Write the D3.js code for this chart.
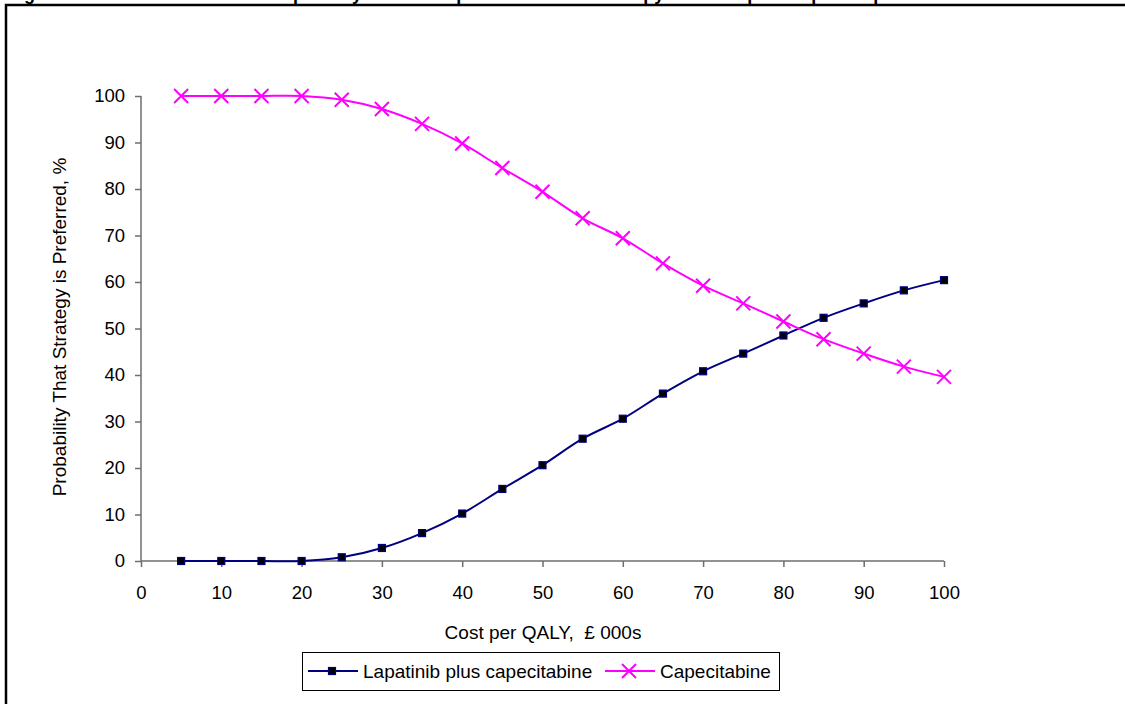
<!DOCTYPE html>
<html>
<head>
<meta charset="utf-8" />
<title>Cost-effectiveness acceptability curve</title>
<style>
  body { margin: 0; background: #fff; }
  svg text { font-family: "Liberation Sans", Arial, sans-serif; fill: #000; }
</style>
</head>
<body>
<svg id="chart" width="1125" height="704"></svg>
<script src="https://d3js.org/d3.v7.min.js"></script>
<script>
// thresholds, £ 000s
var costs = [5, 10, 15, 20, 25, 30, 35, 40, 45, 50, 55, 60, 65, 70, 75, 80, 85, 90, 95, 100];
var lapatinib = [0, 0, 0, 0, 0.8, 2.8, 6.0, 10.2, 15.5, 20.6, 26.3, 30.6, 36.0, 40.8, 44.6, 48.5, 52.3, 55.4, 58.2, 60.4];
var capecitabine = [100, 100, 100, 100, 99.2, 97.2, 94.0, 89.8, 84.5, 79.4, 73.7, 69.4, 64.0, 59.2, 55.4, 51.5, 47.7, 44.6, 41.8, 39.6];
var xTicks = [0, 10, 20, 30, 40, 50, 60, 70, 80, 90, 100];
var yTicks = [0, 10, 20, 30, 40, 50, 60, 70, 80, 90, 100];
var seriesNames = ["Lapatinib plus capecitabine", "Capecitabine"];

var svg = d3.select("#chart");

// outer frame of the figure
svg.append("rect")
  .attr("x", 6).attr("y", 5)
  .attr("width", 1200).attr("height", 800)
  .attr("fill", "none").attr("stroke", "#000").attr("stroke-width", 2.5);

// title, cut off at the top edge like the source
svg.append("text")
  .attr("x", 8).attr("y", 0)
  .attr("font-size", 18).attr("font-weight", "bold")
  .text("Figure 3. Cost-effectiveness acceptability curves: capecitabine monotherapy versus lapatinib plus capecitabine");

var x = d3.scaleLinear().domain([0, 100]).range([141, 944]);
var y = d3.scaleLinear().domain([0, 100]).range([561, 96]);

var axisColor = "#6e6e6e";

var gx = svg.append("g").attr("transform", "translate(0,561)")
  .call(d3.axisBottom(x).tickValues(xTicks).tickSize(6).tickPadding(19));
var gy = svg.append("g").attr("transform", "translate(141,0)")
  .call(d3.axisLeft(y).tickValues(yTicks).tickSize(6).tickPadding(10));

[gx, gy].forEach(function(g) {
  g.select(".domain").attr("stroke", axisColor).attr("stroke-width", 1.5);
  g.selectAll(".tick line").attr("stroke", axisColor).attr("stroke-width", 1.5);
  g.selectAll(".tick text").attr("font-size", 18.5).attr("font-family", "Liberation Sans, Arial, sans-serif").attr("fill", "#000");
});
// plain axis lines without the outer end ticks
gx.select(".domain").attr("d", "M141,0H944");
gy.select(".domain").attr("d", "M0,96V561");

svg.append("text")
  .attr("x", 543).attr("y", 639)
  .attr("text-anchor", "middle").attr("font-size", 19)
  .style("white-space", "pre")
  .text("Cost per QALY,  \u00a3 000s");

svg.append("text")
  .attr("transform", "translate(66,327) rotate(-90)")
  .attr("text-anchor", "middle").attr("font-size", 19)
  .text("Probability That Strategy is Preferred, %");

var lapData = costs.map(function(c, i) { return [c, lapatinib[i]]; });
var capData = costs.map(function(c, i) { return [c, capecitabine[i]]; });

var line = d3.line()
  .x(function(d) { return x(d[0]); })
  .y(function(d) { return y(d[1]); })
  .curve(d3.curveCatmullRom.alpha(0.5));

var navy = "#000080", magenta = "#ff00ff";

svg.append("path").datum(lapData)
  .attr("d", line).attr("fill", "none")
  .attr("stroke", navy).attr("stroke-width", 2);
svg.append("path").datum(capData)
  .attr("d", line).attr("fill", "none")
  .attr("stroke", magenta).attr("stroke-width", 2);

function squareMark(sel) {
  sel.append("rect")
    .attr("x", -3.5).attr("y", -3.5).attr("width", 7).attr("height", 7)
    .attr("fill", "#000").attr("stroke", navy).attr("stroke-width", 1.2);
}
function crossMark(sel) {
  sel.append("path")
    .attr("d", "M-7,-7L7,7M-7,7L7,-7")
    .attr("stroke", magenta).attr("stroke-width", 2).attr("fill", "none");
}

svg.selectAll("g.lap").data(lapData).enter().append("g")
  .attr("class", "lap")
  .attr("transform", function(d) { return "translate(" + x(d[0]) + "," + y(d[1]) + ")"; })
  .call(squareMark);

svg.selectAll("g.cap").data(capData).enter().append("g")
  .attr("class", "cap")
  .attr("transform", function(d) { return "translate(" + x(d[0]) + "," + y(d[1]) + ")"; })
  .call(crossMark);

// legend
var legend = svg.append("g");
legend.append("rect")
  .attr("x", 302.5).attr("y", 652.5).attr("width", 477).attr("height", 38)
  .attr("fill", "#fff").attr("stroke", "#000").attr("stroke-width", 1);

var items = [
  { name: seriesNames[0], color: navy, x0: 308, mark: squareMark },
  { name: seriesNames[1], color: magenta, x0: 605, mark: crossMark }
];
items.forEach(function(it) {
  var g = legend.append("g");
  g.append("line")
    .attr("x1", it.x0).attr("x2", it.x0 + 50).attr("y1", 671).attr("y2", 671)
    .attr("stroke", it.color).attr("stroke-width", 2);
  g.append("g").attr("transform", "translate(" + (it.x0 + 24) + ",671)").call(it.mark);
  g.append("text")
    .attr("x", it.x0 + 55).attr("y", 678)
    .attr("font-size", 19)
    .text(it.name);
});
</script>
</body>
</html>
